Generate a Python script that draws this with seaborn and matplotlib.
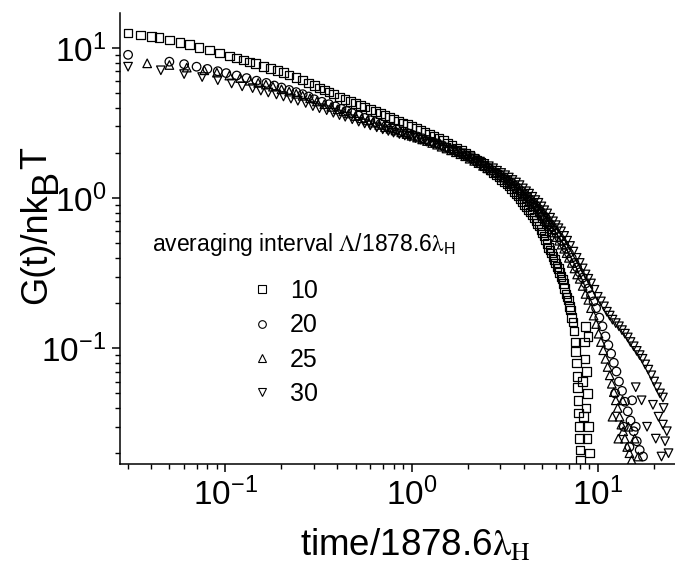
import matplotlib
matplotlib.use('Agg')
import matplotlib.pyplot as plt
from matplotlib.lines import Line2D
import seaborn as sns
import pandas as pd

# averaging interval (in units of 1878.6 lambda_H) and marker per series
intervals = ['10', '20', '25', '30']
markers = ['s', 'o', '^', 'v']

# time/1878.6lambda_H and G(t)/nk_BT
t_10 = [0.030, 0.035, 0.040, 0.044, 0.050, 0.057, 0.064, 0.072, 0.082, 0.093,
        0.105, 0.115, 0.125, 0.135, 0.145, 0.16, 0.175, 0.19, 0.205, 0.22,
        0.24, 0.26, 0.28, 0.30, 0.32, 0.34, 0.36, 0.38, 0.41, 0.44,
        0.47, 0.50, 0.53, 0.56, 0.60, 0.64, 0.68, 0.72, 0.76, 0.80,
        0.85, 0.90, 0.95, 1.0, 1.06, 1.12, 1.18, 1.25, 1.32, 1.4,
        1.48, 1.56, 1.65, 1.75, 1.85, 1.95, 2.05, 2.15, 2.25, 2.35,
        2.45, 2.55, 2.65, 2.75, 2.85, 2.95, 3.05, 3.15, 3.25, 3.35,
        3.45, 3.55, 3.65, 3.75, 3.85, 3.95, 4.05, 4.15, 4.25, 4.35,
        4.45, 4.55, 4.65, 4.75, 4.85, 4.95, 5.05, 5.15, 5.25, 5.35,
        5.45, 5.55, 5.65, 5.75, 5.85, 5.95, 6.05, 6.15, 6.25, 6.35,
        6.45, 6.55, 6.65, 6.75, 6.85, 6.95, 7.05, 7.15, 7.25, 7.35,
        7.45, 7.55, 7.62, 7.68, 7.74, 7.8, 7.85, 7.9, 7.95, 8.0,
        8.05, 8.1, 8.3, 8.5, 8.6, 8.55, 8.7, 8.8, 8.65, 8.9,
        8.75, 9.0, 8.4, 8.85]
g_10 = [12.6, 12.2, 11.9, 11.7, 11.3, 10.9, 10.5, 10.1, 9.7, 9.25,
        8.85, 8.55, 8.3, 8.07, 7.85, 7.55, 7.3, 7.05, 6.85, 6.6,
        6.35, 6.1, 5.85, 5.6, 5.42, 5.25, 5.1, 4.92, 4.72, 4.55,
        4.4, 4.25, 4.14, 4.03, 3.9, 3.78, 3.66, 3.55, 3.45, 3.35,
        3.26, 3.17, 3.08, 3.0, 2.91, 2.82, 2.74, 2.65, 2.57, 2.49,
        2.41, 2.33, 2.24, 2.15, 2.07, 1.99, 1.92, 1.85, 1.78, 1.72,
        1.65, 1.59, 1.54, 1.48, 1.43, 1.38, 1.33, 1.29, 1.24, 1.2,
        1.15, 1.11, 1.07, 1.03, 0.99, 0.95, 0.91, 0.88, 0.84, 0.81,
        0.78, 0.74, 0.71, 0.68, 0.65, 0.62, 0.59, 0.56, 0.53, 0.5,
        0.47, 0.45, 0.43, 0.41, 0.39, 0.37, 0.35, 0.34, 0.32, 0.3,
        0.29, 0.27, 0.25, 0.23, 0.22, 0.21, 0.19, 0.18, 0.16, 0.15,
        0.13, 0.11, 0.095, 0.08, 0.065, 0.055, 0.045, 0.037, 0.03, 0.025,
        0.021, 0.018, 0.06, 0.11, 0.14, 0.085, 0.07, 0.05, 0.04, 0.03,
        0.025, 0.02, 0.035, 0.12]

t_20 = [0.030, 0.050, 0.060, 0.070, 0.080, 0.091, 0.101, 0.115, 0.13, 0.147,
        0.166, 0.183, 0.2, 0.22, 0.24, 0.26, 0.28, 0.30, 0.33, 0.36,
        0.39, 0.42, 0.45, 0.48, 0.52, 0.56, 0.60, 0.64, 0.68, 0.73,
        0.78, 0.83, 0.89, 0.95, 1.01, 1.08, 1.15, 1.22, 1.3, 1.38,
        1.46, 1.55, 1.65, 1.75, 1.85, 1.96, 2.08, 2.2, 2.32, 2.45,
        2.58, 2.72, 2.86, 3.0, 3.15, 3.3, 3.45, 3.6, 3.75, 3.9,
        4.05, 4.2, 4.35, 4.5, 4.65, 4.8, 4.95, 5.1, 5.25, 5.4,
        5.55, 5.7, 5.85, 6.0, 6.2, 6.4, 6.6, 6.8, 7.0, 7.25,
        7.5, 7.75, 8.0, 8.3, 8.6, 8.9, 9.2, 9.5, 9.8, 10.2,
        10.6, 11.0, 11.4, 11.8, 12.2, 12.6, 13.0, 13.5, 14.0, 14.5,
        15.0, 15.6, 16.2, 16.8, 12.4, 13.8, 15.3, 17.5, 14.8, 16.0]
g_20 = [9.0, 8.1, 7.8, 7.5, 7.25, 7.0, 6.8, 6.55, 6.3, 6.05,
        5.85, 5.62, 5.45, 5.25, 5.08, 4.92, 4.75, 4.55, 4.38, 4.22,
        4.08, 3.93, 3.8, 3.68, 3.54, 3.42, 3.3, 3.21, 3.12, 3.03,
        2.95, 2.87, 2.79, 2.71, 2.64, 2.57, 2.5, 2.44, 2.37, 2.31,
        2.24, 2.17, 2.1, 2.04, 1.98, 1.91, 1.84, 1.77, 1.71, 1.65,
        1.59, 1.53, 1.47, 1.42, 1.37, 1.31, 1.26, 1.21, 1.16, 1.11,
        1.06, 1.02, 0.97, 0.93, 0.89, 0.85, 0.81, 0.77, 0.74, 0.7,
        0.67, 0.64, 0.61, 0.58, 0.55, 0.52, 0.49, 0.46, 0.43, 0.4,
        0.37, 0.345, 0.32, 0.295, 0.27, 0.25, 0.225, 0.205, 0.185, 0.16,
        0.14, 0.12, 0.105, 0.092, 0.08, 0.07, 0.06, 0.052, 0.044, 0.038,
        0.033, 0.028, 0.024, 0.021, 0.05, 0.03, 0.045, 0.019, 0.022, 0.03]

t_25 = [0.038, 0.050, 0.062, 0.077, 0.09, 0.105, 0.12, 0.135, 0.15, 0.165,
        0.18, 0.2, 0.22, 0.24, 0.26, 0.285, 0.31, 0.34, 0.37, 0.4,
        0.43, 0.46, 0.5, 0.54, 0.58, 0.62, 0.67, 0.72, 0.77, 0.82,
        0.88, 0.94, 1.0, 1.07, 1.14, 1.21, 1.29, 1.37, 1.45, 1.54,
        1.63, 1.73, 1.83, 1.94, 2.05, 2.17, 2.29, 2.42, 2.55, 2.68,
        2.82, 2.96, 3.1, 3.25, 3.4, 3.55, 3.7, 3.85, 4.0, 4.15,
        4.3, 4.45, 4.6, 4.75, 4.9, 5.05, 5.2, 5.35, 5.5, 5.65,
        5.8, 6.0, 6.2, 6.4, 6.6, 6.8, 7.0, 7.25, 7.5, 7.75,
        8.0, 8.3, 8.6, 8.9, 9.2, 9.5, 9.8, 10.1, 10.4, 10.7,
        11.0, 11.3, 11.6, 11.9, 12.2, 12.5, 12.8, 13.1, 13.4, 13.7,
        14.0, 14.4, 14.8, 15.2, 12.0, 12.9, 13.6, 14.6, 15.8, 16.5]
g_25 = [7.9, 7.7, 7.4, 7.1, 6.85, 6.55, 6.3, 6.05, 5.85, 5.7,
        5.52, 5.3, 5.12, 4.95, 4.8, 4.62, 4.4, 4.22, 4.05, 3.9,
        3.78, 3.66, 3.52, 3.4, 3.29, 3.18, 3.07, 2.97, 2.9, 2.82,
        2.74, 2.67, 2.6, 2.53, 2.46, 2.4, 2.33, 2.27, 2.2, 2.14,
        2.08, 2.02, 1.96, 1.9, 1.83, 1.77, 1.71, 1.64, 1.58, 1.53,
        1.47, 1.42, 1.37, 1.32, 1.26, 1.21, 1.16, 1.1, 1.05, 1.0,
        0.96, 0.92, 0.88, 0.84, 0.8, 0.76, 0.72, 0.69, 0.65, 0.62,
        0.59, 0.55, 0.52, 0.49, 0.46, 0.43, 0.4, 0.37, 0.34, 0.31,
        0.29, 0.26, 0.23, 0.21, 0.185, 0.165, 0.145, 0.125, 0.11, 0.097,
        0.085, 0.075, 0.066, 0.058, 0.051, 0.045, 0.04, 0.035, 0.031, 0.028,
        0.025, 0.022, 0.02, 0.018, 0.035, 0.025, 0.045, 0.03, 0.025, 0.019]

t_30 = [0.030, 0.045, 0.060, 0.075, 0.091, 0.108, 0.123, 0.14, 0.155, 0.17,
        0.188, 0.205, 0.225, 0.245, 0.27, 0.295, 0.32, 0.35, 0.38, 0.41,
        0.44, 0.48, 0.52, 0.56, 0.6, 0.65, 0.7, 0.75, 0.8, 0.86,
        0.92, 0.98, 1.05, 1.12, 1.2, 1.28, 1.36, 1.45, 1.54, 1.64,
        1.74, 1.85, 1.96, 2.08, 2.2, 2.33, 2.46, 2.6, 2.74, 2.88,
        3.03, 3.18, 3.33, 3.48, 3.64, 3.8, 3.96, 4.12, 4.28, 4.45,
        4.62, 4.8, 4.98, 5.16, 5.35, 5.55, 5.75, 5.95, 6.15, 6.35,
        6.6, 6.85, 7.1, 7.4, 7.7, 8.0, 8.3, 8.6, 8.9, 9.2,
        9.6, 10.0, 10.4, 10.8, 11.2, 11.6, 12.0, 12.5, 13.0, 13.5,
        14.0, 14.5, 15.0, 15.6, 16.2, 16.8, 17.4, 18.0, 18.7, 19.4,
        20.1, 20.8, 21.6, 22.4, 22.4, 22.6, 23.0, 23.5, 24.0, 21.2,
        19.8, 18.4, 17.2, 16.0, 20.5, 22.0]
g_30 = [7.5, 7.1, 6.7, 6.4, 6.1, 5.8, 5.55, 5.4, 5.2, 5.05,
        4.9, 4.75, 4.6, 4.45, 4.3, 4.1, 3.97, 3.85, 3.7, 3.57,
        3.48, 3.35, 3.23, 3.14, 3.05, 2.96, 2.87, 2.8, 2.73, 2.67,
        2.61, 2.56, 2.51, 2.45, 2.38, 2.33, 2.28, 2.21, 2.16, 2.11,
        2.05, 1.99, 1.92, 1.87, 1.81, 1.75, 1.69, 1.63, 1.58, 1.52,
        1.47, 1.42, 1.37, 1.32, 1.27, 1.22, 1.16, 1.11, 1.07, 1.02,
        0.97, 0.93, 0.88, 0.83, 0.79, 0.74, 0.7, 0.66, 0.63, 0.6,
        0.56, 0.52, 0.48, 0.44, 0.4, 0.37, 0.34, 0.31, 0.29, 0.27,
        0.245, 0.22, 0.205, 0.19, 0.175, 0.165, 0.155, 0.147, 0.14, 0.132,
        0.125, 0.118, 0.11, 0.103, 0.096, 0.09, 0.085, 0.078, 0.072, 0.066,
        0.06, 0.055, 0.05, 0.047, 0.031, 0.04, 0.024, 0.028, 0.02, 0.035,
        0.042, 0.03, 0.045, 0.055, 0.025, 0.019]

frames = []
for lab, t, g in zip(intervals, [t_10, t_20, t_25, t_30], [g_10, g_20, g_25, g_30]):
    frames.append(pd.DataFrame({'time': t, 'G': g, 'interval': lab}))
df = pd.concat(frames, ignore_index=True)

sns.set_style('ticks')
plt.rcParams['font.family'] = ['Liberation Sans', 'DejaVu Sans']
plt.rcParams['mathtext.fontset'] = 'stix'
plt.rcParams['axes.unicode_minus'] = False
for key in ['text.color', 'axes.labelcolor', 'xtick.color', 'ytick.color', 'axes.edgecolor']:
    plt.rcParams[key] = 'black'

fig, ax = plt.subplots(figsize=(6.75, 5.64), dpi=100)
fig.subplots_adjust(left=0.178, right=1.0, bottom=0.177, top=0.977)

for lab, m in zip(intervals, markers):
    sub = df[df['interval'] == lab]
    sns.scatterplot(data=sub, x='time', y='G', marker=m, s=38,
                    facecolor='none', edgecolor='black', linewidth=0.9,
                    ax=ax, legend=False)

ax.set_xscale('log')
ax.set_yscale('log')
ax.set_xlim(0.0272, 26)
ax.set_ylim(0.0169, 17.1)

ax.tick_params(which='major', direction='out', length=6, width=1.1, labelsize=24, pad=4)
ax.tick_params(which='minor', direction='out', length=3.6, width=1.0)
for side in ['left', 'bottom']:
    ax.spines[side].set_linewidth(1.1)
sns.despine(ax=ax)

ax.set_xlabel(r'time/1878.6$\mathrm{\lambda_H}$', fontsize=26.5, va='top')
ax.xaxis.set_label_coords(0.532, -0.142)
ax.set_ylabel('')

# y label: "G(t)/nk" + full-size lowered "B" + "T", rotated, placed in pixels
W, H = 675, 564
renderer = fig.canvas.get_renderer()
ylab_kw = dict(rotation=90, rotation_mode='anchor', ha='left', va='baseline', fontsize=26)
x_base, y_pos = 46, 304
for part, shift in [('G(t)/nk', 0), ('B', 10), ('T', 0)]:
    txt = fig.text((x_base + shift) / W, 1 - y_pos / H, part, **ylab_kw)
    y_pos -= txt.get_window_extent(renderer).height

# legend: title drawn as text, entries as a frameless legend
fig.text(152 / W, 1 - 244 / H,
         r'averaging interval $\mathrm{\Lambda}$/1878.6$\mathrm{\lambda}_\mathregular{H}$',
         ha='left', va='center', fontsize=16.5)
handles = [Line2D([], [], marker=m, ls='none', mfc='none', mec='black', ms=5.5, mew=0.8)
           for m in markers]
ax.legend(handles, intervals, loc='upper left', bbox_to_anchor=(252 / W, 1 - 279 / H),
          bbox_transform=fig.transFigure, frameon=False, fontsize=18,
          handlelength=0.8, handletextpad=0.72, labelspacing=0.41,
          borderpad=0, borderaxespad=0)

fig.savefig('out.png', dpi=100)
